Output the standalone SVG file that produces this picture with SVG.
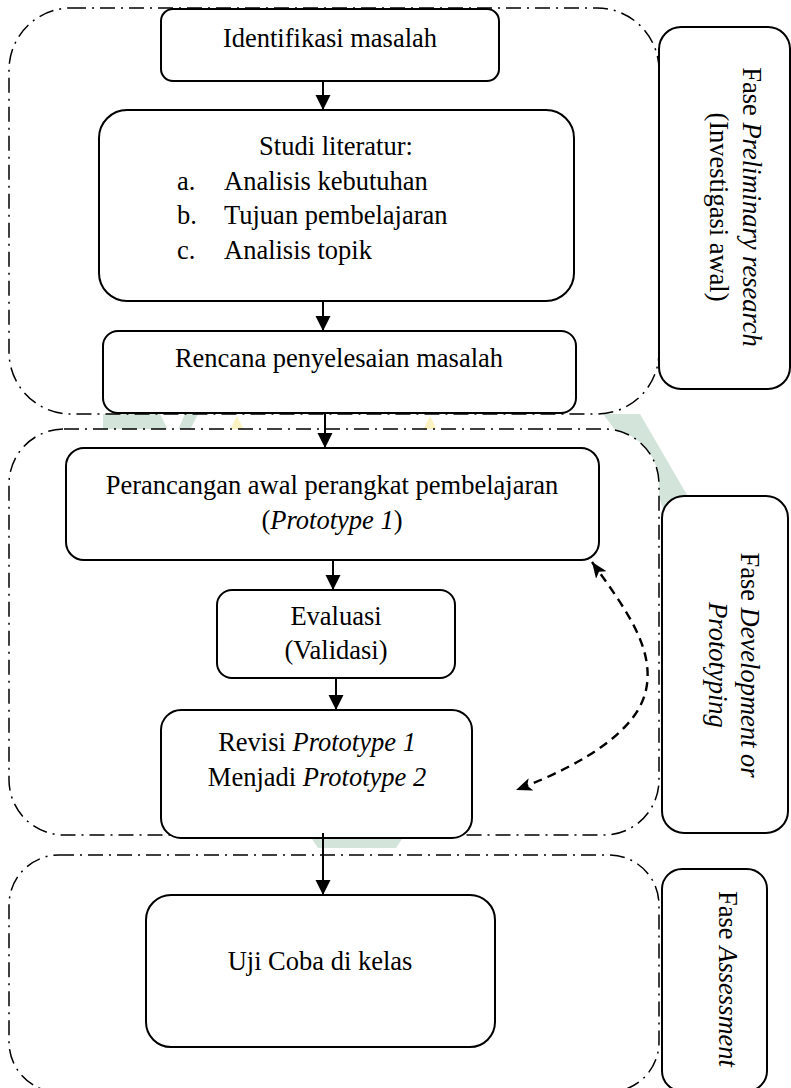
<svg xmlns="http://www.w3.org/2000/svg" width="791" height="1088" viewBox="0 0 791 1088">
<style>
  .region { fill: #ffffff; stroke: #000; stroke-width: 1.5; stroke-dasharray: 15 6 2 6; }
  .box { fill: #ffffff; stroke: #000; stroke-width: 2; }
  .side { fill: #ffffff; stroke: #000; stroke-width: 2; }
  .t { font-family: "Liberation Serif", "Times New Roman", serif; font-size: 26.5px; fill: #000; }
  .i { font-style: italic; }
  .arrow { stroke: #000; stroke-width: 2; fill: none; }
  .dash { stroke: #000; stroke-width: 2.4; fill: none; stroke-dasharray: 9 6; }
  .wm { fill: #d3e5db; }
  .wmy { fill: #fbf2c2; }
</style>
<defs>
  <marker id="ah" markerUnits="userSpaceOnUse" markerWidth="16" markerHeight="16" refX="15" refY="7.5" orient="auto">
    <path d="M0,0 L15,7.5 L0,15 z" fill="#000"/>
  </marker>
  <marker id="dh" markerUnits="userSpaceOnUse" markerWidth="18" markerHeight="14" refX="16" refY="6.5" orient="auto-start-reverse">
    <path d="M0,0 L16,6.5 L0,13 L4,6.5 z" fill="#000"/>
  </marker>
</defs>

<g id="watermark">
  <polygon class="wm" points="103,414 160,414 168,430 103,430"/>
  <polygon class="wm" points="185,414 198,414 190,430 178,430"/>
  <polygon class="wmy" points="237,416 244,430 230,430"/>
  <polygon class="wmy" points="430,416 437,430 423,430"/>
  <polygon class="wm" points="603,414 640,414 690,500 664,512 650,470 615,430"/>
  <polygon class="wm" points="310,836 404,836 396,848 318,848"/>
</g>

<g id="phase-regions">
  <rect id="region-preliminary" class="region" x="9" y="8" width="650" height="406" rx="62" ry="62"/>
  <rect id="region-development" class="region" x="9" y="429" width="650" height="406" rx="55" ry="55"/>
  <rect id="region-assessment" class="region" x="9" y="855" width="650" height="237" rx="50" ry="50"/>
</g>

<g id="label-preliminary">
  <rect class="side" x="659" y="27" width="131" height="362" rx="22" ry="22"/>
  <text class="t" transform="translate(743,207) rotate(90)" text-anchor="middle"><tspan x="0" y="0">Fase <tspan class="i">Preliminary research</tspan></tspan><tspan x="0" y="33">(Investigasi awal)</tspan></text>
</g>

<g id="label-development">
  <rect class="side" x="662" y="496" width="126" height="337" rx="22" ry="22"/>
  <text class="t" transform="translate(741,665) rotate(90)" text-anchor="middle"><tspan x="0" y="0">Fase <tspan class="i">Development or</tspan></tspan><tspan class="i" x="0" y="32">Prototyping</tspan></text>
</g>

<g id="label-assessment">
  <rect class="side" x="662" y="869" width="105" height="222" rx="20" ry="20"/>
  <text class="t" transform="translate(719,979) rotate(90)" text-anchor="middle">Fase <tspan class="i">Assessment</tspan></text>
</g>

<g id="node-identifikasi">
  <rect class="box" x="161" y="9" width="338" height="72" rx="12" ry="12"/>
  <text class="t" x="330" y="47" text-anchor="middle">Identifikasi masalah</text>
</g>

<g id="node-studi">
  <rect class="box" x="99" y="110" width="475" height="191" rx="28" ry="28"/>
  <text class="t" x="336" y="155" text-anchor="middle">Studi literatur:</text>
  <text class="t" x="177" y="190">a.</text>
  <text class="t" x="224" y="190">Analisis kebutuhan</text>
  <text class="t" x="177" y="224">b.</text>
  <text class="t" x="224" y="224">Tujuan pembelajaran</text>
  <text class="t" x="177" y="259">c.</text>
  <text class="t" x="224" y="259">Analisis topik</text>
</g>

<g id="node-rencana">
  <rect class="box" x="103" y="331" width="473" height="82" rx="15" ry="15"/>
  <text class="t" x="339" y="367" text-anchor="middle">Rencana penyelesaian masalah</text>
</g>

<g id="node-perancangan">
  <rect class="box" x="66" y="448" width="533" height="112" rx="18" ry="18"/>
  <text class="t" x="332" y="494" text-anchor="middle">Perancangan awal perangkat pembelajaran</text>
  <text class="t" x="332" y="529" text-anchor="middle">(<tspan class="i">Prototype 1</tspan>)</text>
</g>

<g id="node-evaluasi">
  <rect class="box" x="217" y="590" width="238" height="88" rx="15" ry="15"/>
  <text class="t" x="336" y="625" text-anchor="middle">Evaluasi</text>
  <text class="t" x="336" y="659" text-anchor="middle">(Validasi)</text>
</g>

<g id="node-revisi">
  <rect class="box" x="161" y="710" width="311" height="128" rx="20" ry="20"/>
  <text class="t" x="317" y="751" text-anchor="middle">Revisi <tspan class="i">Prototype 1</tspan></text>
  <text class="t" x="317" y="786" text-anchor="middle">Menjadi <tspan class="i">Prototype 2</tspan></text>
</g>

<g id="node-ujicoba">
  <rect class="box" x="146" y="895" width="349" height="152" rx="25" ry="25"/>
  <text class="t" x="320" y="970" text-anchor="middle">Uji Coba di kelas</text>
</g>

<g id="connectors">
  <line class="arrow" x1="323" y1="81" x2="323" y2="110" marker-end="url(#ah)"/>
  <line class="arrow" x1="323" y1="301" x2="323" y2="331" marker-end="url(#ah)"/>
  <line class="arrow" x1="325" y1="413" x2="325" y2="448" marker-end="url(#ah)"/>
  <line class="arrow" x1="333" y1="560" x2="333" y2="590" marker-end="url(#ah)"/>
  <line class="arrow" x1="336" y1="678" x2="336" y2="710" marker-end="url(#ah)"/>
  <line class="arrow" x1="323" y1="833" x2="323" y2="895" marker-end="url(#ah)"/>
  <path class="dash" d="M592,562 C625,608 655,648 646,690 C638,728 590,762 516,790" marker-start="url(#dh)" marker-end="url(#dh)"/>
</g>
</svg>
